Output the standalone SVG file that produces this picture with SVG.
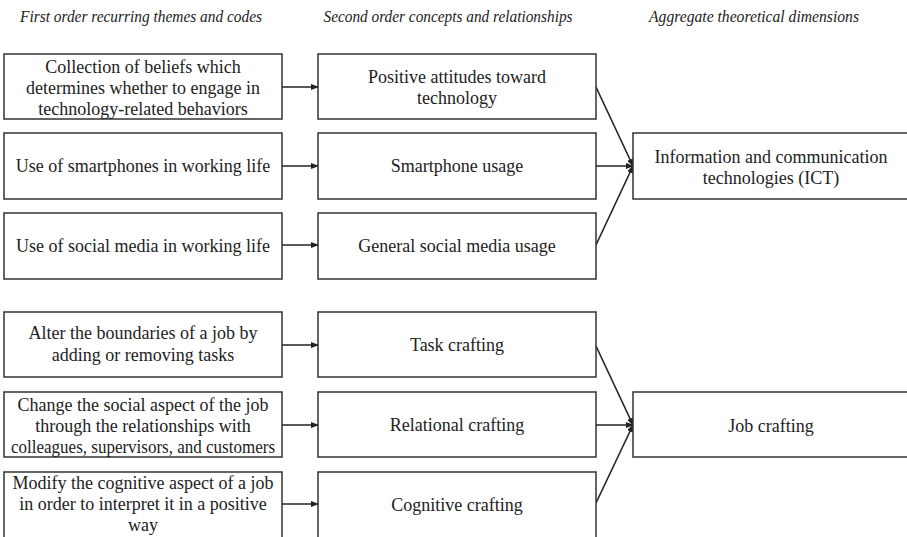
<svg xmlns="http://www.w3.org/2000/svg" width="907" height="537" viewBox="0 0 907 537">
<style>
.bx{fill:#fff;stroke:#333;stroke-width:1.5}
.t{font-family:"Liberation Serif","Times New Roman",serif;font-size:18px;fill:#222;text-anchor:middle}
.h{font-family:"Liberation Serif","Times New Roman",serif;font-size:16px;font-style:italic;fill:#222;text-anchor:middle}
.c{stroke:#222;stroke-width:1.6;fill:none;marker-end:url(#ah)}
</style>
<defs>
<marker id="ah" markerWidth="8" markerHeight="6" refX="7" refY="3" orient="auto" markerUnits="userSpaceOnUse">
<path d="M0,0 L8,3 L0,6 Z" fill="#222"/>
</marker>
</defs>
<g id="headers">
<text class="h" x="141" y="22" textLength="242" lengthAdjust="spacingAndGlyphs">First order recurring themes and codes</text>
<text class="h" x="448" y="22" textLength="249" lengthAdjust="spacingAndGlyphs">Second order concepts and relationships</text>
<text class="h" x="754" y="22" textLength="210" lengthAdjust="spacingAndGlyphs">Aggregate theoretical dimensions</text>
</g>
<g id="connectors">
<line class="c" x1="282" y1="87" x2="318" y2="87"/>
<line class="c" x1="282" y1="166" x2="318" y2="166"/>
<line class="c" x1="282" y1="245" x2="318" y2="245"/>
<line class="c" x1="282" y1="345" x2="318" y2="345"/>
<line class="c" x1="282" y1="425" x2="318" y2="425"/>
<line class="c" x1="282" y1="504" x2="318" y2="504"/>
<line class="c" x1="596" y1="87" x2="633" y2="166"/>
<line class="c" x1="596" y1="166" x2="633" y2="166"/>
<line class="c" x1="596" y1="245" x2="633" y2="166"/>
<line class="c" x1="596" y1="346" x2="633" y2="425"/>
<line class="c" x1="596" y1="425" x2="633" y2="425"/>
<line class="c" x1="596" y1="503" x2="633" y2="425"/>
</g>
<g id="n1"><rect class="bx" x="4" y="54" width="278" height="65"/>
<text class="t" x="143" y="73">Collection of beliefs which</text>
<text class="t" x="143" y="94">determines whether to engage in</text>
<text class="t" x="143" y="115">technology-related behaviors</text></g>
<g id="n2"><rect class="bx" x="4" y="133" width="278" height="66"/>
<text class="t" x="143" y="172">Use of smartphones in working life</text></g>
<g id="n3"><rect class="bx" x="4" y="213" width="278" height="66"/>
<text class="t" x="143" y="252">Use of social media in working life</text></g>
<g id="n4"><rect class="bx" x="318" y="54" width="278" height="65"/>
<text class="t" x="457" y="83">Positive attitudes toward</text>
<text class="t" x="457" y="104">technology</text></g>
<g id="n5"><rect class="bx" x="318" y="133" width="278" height="66"/>
<text class="t" x="457" y="172">Smartphone usage</text></g>
<g id="n6"><rect class="bx" x="318" y="213" width="278" height="66"/>
<text class="t" x="457" y="252">General social media usage</text></g>
<g id="n7"><rect class="bx" x="633" y="133" width="280" height="66"/>
<text class="t" x="771" y="163">Information and communication</text>
<text class="t" x="771" y="184">technologies (ICT)</text></g>
<g id="n8"><rect class="bx" x="4" y="312" width="278" height="65"/>
<text class="t" x="143" y="339">Alter the boundaries of a job by</text>
<text class="t" x="143" y="361">adding or removing tasks</text></g>
<g id="n9"><rect class="bx" x="4" y="392" width="278" height="65"/>
<text class="t" x="143" y="411">Change the social aspect of the job</text>
<text class="t" x="143" y="432">through the relationships with</text>
<text class="t" x="143" y="453" textLength="264" lengthAdjust="spacingAndGlyphs">colleagues, supervisors, and customers</text></g>
<g id="n10"><rect class="bx" x="4" y="472" width="278" height="70"/>
<text class="t" x="143" y="489">Modify the cognitive aspect of a job</text>
<text class="t" x="143" y="510">in order to interpret it in a positive</text>
<text class="t" x="143" y="531">way</text></g>
<g id="n11"><rect class="bx" x="318" y="312" width="278" height="65"/>
<text class="t" x="457" y="351">Task crafting</text></g>
<g id="n12"><rect class="bx" x="318" y="392" width="278" height="65"/>
<text class="t" x="457" y="431">Relational crafting</text></g>
<g id="n13"><rect class="bx" x="318" y="472" width="278" height="70"/>
<text class="t" x="457" y="511">Cognitive crafting</text></g>
<g id="n14"><rect class="bx" x="633" y="392" width="280" height="65"/>
<text class="t" x="771" y="432">Job crafting</text></g>
</svg>
